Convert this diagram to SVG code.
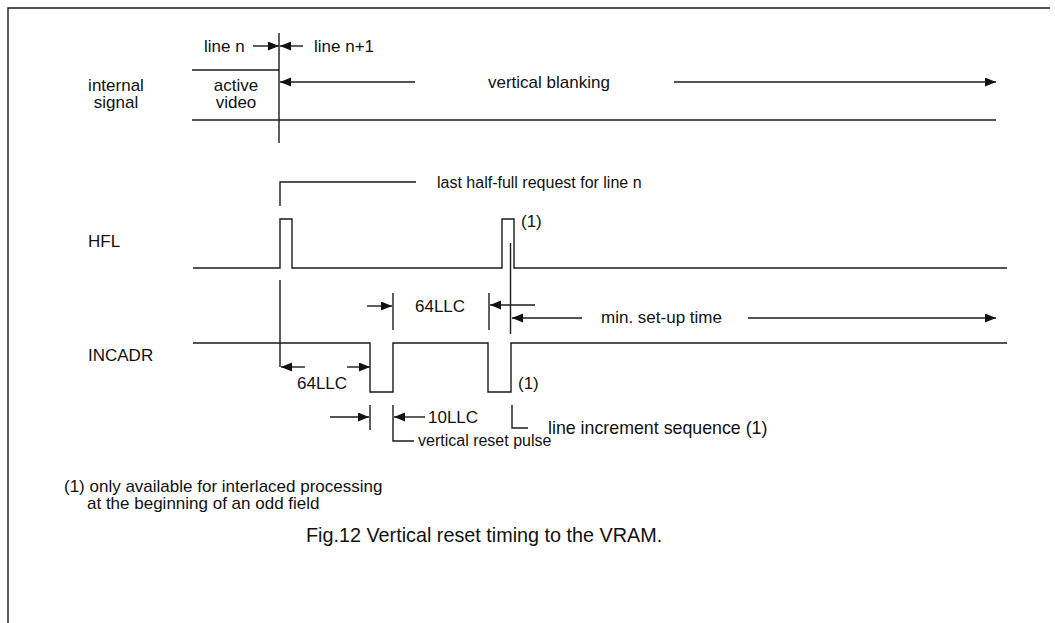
<svg xmlns="http://www.w3.org/2000/svg" width="1055" height="623" viewBox="0 0 1055 623">
<defs>
<marker id="ah" markerUnits="userSpaceOnUse" markerWidth="12" markerHeight="10" refX="11" refY="4.5" orient="auto">
<path d="M0,0 L11,4.5 L0,9 z" fill="#111"/>
</marker>
<style>
.ln{stroke:#1a1a1a;stroke-width:1.4;fill:none}
.ar{stroke:#1a1a1a;stroke-width:1.4;fill:none;marker-end:url(#ah)}
text{font-family:"Liberation Sans",Arial,sans-serif;font-size:17px;fill:#111}
.c{text-anchor:middle}
.cap{font-size:19.8px}
.s16{font-size:16px}
</style>
</defs>
<rect width="1055" height="623" fill="#fff"/>
<g id="frame">
<path class="ln" d="M8,623 V8 H1050"/>
</g>
<g id="internal-signal">
<text class="c" x="116" y="91">internal</text>
<text class="c" x="116" y="108">signal</text>
<text class="c" x="236" y="91">active</text>
<text class="c" x="236" y="108">video</text>
<path class="ln" d="M192,70 H279"/>
<path class="ln" d="M192,120 H996"/>
<text x="204" y="52">line n</text>
<text x="314" y="52">line n+1</text>
<text x="488" y="88">vertical blanking</text>
</g>
<g id="hfl">
<text x="88" y="247">HFL</text>
<path class="ln" d="M193,268 H280 V219 H292 V268 H502 V219 H514 V268 H1007"/>
<text class="s16" x="437" y="188">last half-full request for line n</text>
<text x="521" y="227">(1)</text>
</g>
<g id="incadr">
<text x="88" y="361">INCADR</text>
<path class="ln" d="M193,343 H370 V392 H393 V343 H488 V392 H511 V343 H1007"/>
<text x="518" y="389">(1)</text>
<text x="415" y="312">64LLC</text>
<text x="297" y="389">64LLC</text>
<text x="428" y="423">10LLC</text>
<text x="601" y="323">min. set-up time</text>
<text class="s16" x="418" y="446">vertical reset pulse</text>
<text x="548" y="434" style="font-size:17.8px">line increment sequence (1)</text>
</g>
<g id="notes">
<text x="64" y="492">(1) only available for interlaced processing</text>
<text x="87" y="509">at the beginning of an odd field</text>
<text class="cap" x="306" y="542">Fig.12 Vertical reset timing to the VRAM.</text>
</g>
<g id="connectors">
<path class="ln" d="M279,33 V143"/>
<path class="ar" d="M253,46 H279"/>
<path class="ar" d="M303,46 H280"/>
<path class="ar" d="M415,82 H280"/>
<path class="ar" d="M674,82 H996"/>
<path class="ln" d="M280,206 V182 H416"/>
<path class="ln" d="M510.5,243 V334"/>
<path class="ln" d="M280,280 V367"/>
<path class="ar" d="M305,367 H281"/>
<path class="ar" d="M347,367 H370"/>
<path class="ln" d="M393,293 V330"/>
<path class="ar" d="M367,306 H392"/>
<path class="ln" d="M489,293 V330"/>
<path class="ar" d="M535,305 H490"/>
<path class="ar" d="M582,318 H512"/>
<path class="ar" d="M748,318 H996"/>
<path class="ln" d="M370,405 V430"/>
<path class="ln" d="M393,405 V441 H414"/>
<path class="ar" d="M330,417 H369"/>
<path class="ar" d="M425,417 H394"/>
<path class="ln" d="M512,405 V428 H528"/>
</g>
</svg>
